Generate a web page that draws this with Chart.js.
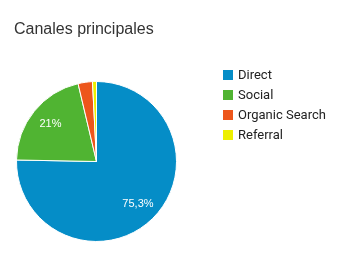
<!DOCTYPE html>
<html>
<head>
<meta charset="utf-8">
<script src="https://cdn.jsdelivr.net/npm/chart.js@4/dist/chart.umd.min.js"></script>
<style>
  body { margin: 0; background: #fff; }
  #wrap { position: relative; width: 360px; height: 279px; }
  #titulo { position: absolute; left: 14px; top: 20px; font: 16px "Liberation Sans", Arial, sans-serif; color: #333; }
  #leyenda { position: absolute; left: 223px; top: 66px; font: 13px Roboto, sans-serif; color: #222; }
  #leyenda div { height: 20px; line-height: 18px; white-space: nowrap; }
  #leyenda span { display: inline-block; width: 10px; height: 10px; margin-right: 5px; vertical-align: -1px; }
</style>
</head>
<body>
<div id="wrap">
  <canvas id="graf1" width="360" height="279"></canvas>
  <div id="titulo">Canales principales</div>
  <div id="leyenda"></div>
</div>
<script>
// datos
const canales = ['Direct', 'Social', 'Organic Search', 'Referral'];
const porcentajes = [75.3, 21, 2.9, 0.8];
const etiquetas = ['75,3%', '21%', '', ''];
const colores = ['#058DC7', '#50B432', '#ED561B', '#EDEF00'];

// leyenda
const leyenda = document.getElementById('leyenda');
for (let i = 0; i < canales.length; i++) {
    const fila = document.createElement('div');
    const cuadro = document.createElement('span');
    cuadro.style.background = colores[i];
    fila.appendChild(cuadro);
    fila.appendChild(document.createTextNode(canales[i]));
    leyenda.appendChild(fila);
}

// etiquetas dentro de las porciones
const textoPorciones = {
    id: 'textoPorciones',
    afterDatasetsDraw(chart) {
        const ctx = chart.ctx;
        const arcos = chart.getDatasetMeta(0).data;
        ctx.save();
        ctx.fillStyle = '#fff';
        ctx.font = '11px "Liberation Sans", Arial, sans-serif';
        ctx.textAlign = 'center';
        ctx.textBaseline = 'middle';
        arcos.forEach(function (arco, i) {
            if (!etiquetas[i]) return;
            const p = arco.getProps(['x', 'y', 'startAngle', 'endAngle', 'outerRadius'], true);
            const medio = (p.startAngle + p.endAngle) / 2;
            const r = p.outerRadius * 0.74;
            ctx.fillText(etiquetas[i], p.x + Math.cos(medio) * r, p.y + Math.sin(medio) * r);
        });
        ctx.restore();
    }
};

const grafico1 = document.getElementById('graf1');
const graf1 = new Chart(grafico1, {
    type: 'pie',
    data: {
        labels: canales,
        datasets: [{
            data: porcentajes,
            backgroundColor: colores,
            borderColor: '#fff',
            borderWidth: 1
        }]
    },
    options: {
        responsive: false,
        animation: false,
        layout: {
            padding: { left: 16, top: 81, right: 183, bottom: 37 }
        },
        plugins: {
            legend: { display: false },
            title: { display: false },
            tooltip: { enabled: false }
        }
    },
    plugins: [textoPorciones]
});
</script>
</body>
</html>
